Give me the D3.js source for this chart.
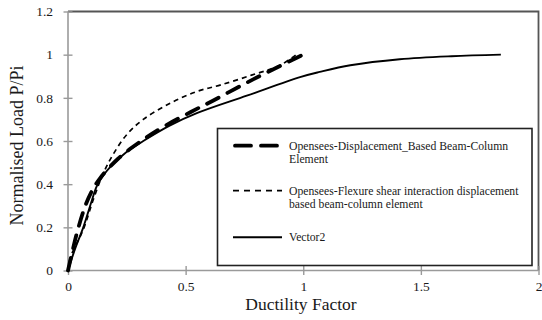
<!DOCTYPE html>
<html>
<head>
<meta charset="utf-8">
<script src="https://cdn.jsdelivr.net/npm/d3@7/dist/d3.min.js"></script>
<style>
  html, body { margin: 0; padding: 0; background: #fff; }
  svg { display: block; }
</style>
</head>
<body>
<svg id="chart" width="542" height="320"></svg>
<script>
// Load–ductility response of the column, three models
const displacementBased = [
  [0, 0], [0.037, 0.17], [0.072, 0.295], [0.10, 0.365], [0.136, 0.427],
  [0.214, 0.519], [0.306, 0.596], [0.406, 0.666], [0.52, 0.733],
  [0.62, 0.789], [0.74, 0.859], [0.85, 0.92], [0.99, 0.995]
];
const flexureShear = [
  [0, 0], [0.01, 0.06], [0.065, 0.19], [0.108, 0.33], [0.15, 0.45],
  [0.193, 0.54], [0.25, 0.63], [0.32, 0.70], [0.434, 0.775],
  [0.55, 0.83], [0.65, 0.86], [0.78, 0.905], [0.90, 0.95], [0.97, 1.0]
];
const vector2 = [
  [0, 0], [0.03, 0.1], [0.065, 0.2], [0.10, 0.32], [0.122, 0.39],
  [0.15, 0.44], [0.18, 0.48], [0.25, 0.55], [0.32, 0.60], [0.43, 0.67],
  [0.55, 0.73], [0.76, 0.81], [0.99, 0.897], [1.07, 0.92], [1.2, 0.951],
  [1.41, 0.979], [1.63, 0.993], [1.84, 1.0]
];
const xTicks = [0, 0.5, 1, 1.5, 2];
const yTicks = [0, 0.2, 0.4, 0.6, 0.8, 1, 1.2];
const seriesNames = [
  ["Opensees-Displacement_Based Beam-Column", "Element"],
  ["Opensees-Flexure shear interaction displacement", "based beam-column element"],
  ["Vector2"]
];

const serif = "'Liberation Serif', 'Times New Roman', Times, serif";
const svg = d3.select("#chart");
const x = d3.scaleLinear().domain([0, 2]).range([68, 538.5]);
const y = d3.scaleLinear().domain([0, 1.2]).range([270.5, 11.5]);

const textColor = "#1a1a1a";

// plot-area frame (top and right)
svg.append("path")
  .attr("d", `M${x(0)},${y(1.2)}H${x(2)}V${y(0)}`)
  .attr("fill", "none").attr("stroke", "#555").attr("stroke-width", 1.8);

// axes
const axisColor = "#9a9a9a";
const xAxis = svg.append("g").attr("transform", `translate(0,${y(0)})`)
  .call(d3.axisBottom(x).tickValues(xTicks).tickFormat(d3.format("")).tickSize(4.5));
const yAxis = svg.append("g").attr("transform", `translate(${x(0)},0)`)
  .call(d3.axisLeft(y).tickValues(yTicks).tickFormat(d3.format("")).tickSize(4.5));

[xAxis, yAxis].forEach(g => {
  g.attr("font-family", serif).attr("font-size", 13.5);
  g.select(".domain").attr("stroke", axisColor).attr("stroke-width", 1.6);
  g.selectAll(".tick line").attr("stroke", axisColor).attr("stroke-width", 1.4);
  g.selectAll(".tick text").attr("fill", textColor);
});
// ticks cross the axis line
xAxis.selectAll(".tick line").attr("y1", -4.5).attr("y2", 4.5);
yAxis.selectAll(".tick line").attr("x1", -4.5).attr("x2", 4.5);
xAxis.selectAll(".tick text").attr("y", 11);
yAxis.selectAll(".tick text").attr("x", -15);
xAxis.select(".domain").attr("d", `M${x(0)},0H${x(2)}`);
yAxis.select(".domain").attr("d", `M0,${y(0)}V${y(1.2)}`);

// axis titles
svg.append("text")
  .attr("x", 301).attr("y", 310)
  .attr("text-anchor", "middle")
  .attr("fill", textColor)
  .attr("font-family", serif)
  .attr("font-size", 17.5)
  .text("Ductility Factor");
svg.append("text")
  .attr("transform", "translate(23,145.5) rotate(-90)")
  .attr("text-anchor", "middle")
  .attr("fill", textColor)
  .attr("font-family", serif)
  .attr("font-size", 18)
  .text("Normalised Load P/Pi");

// series
const line = d3.line().x(d => x(d[0])).y(d => y(d[1])).curve(d3.curveCatmullRom.alpha(0.5));
const styles = [
  { width: 3.8, dash: "13,10", cap: "round" },
  { width: 1.7, dash: "5,4", cap: "butt" },
  { width: 1.9, dash: null, cap: "butt" }
];
const allSeries = [displacementBased, flexureShear, vector2];

allSeries.forEach((data, i) => {
  const p = svg.append("path")
    .datum(data)
    .attr("d", line)
    .attr("fill", "none")
    .attr("stroke", "#000")
    .attr("stroke-width", styles[i].width)
    .attr("stroke-linecap", styles[i].cap);
  if (styles[i].dash) p.attr("stroke-dasharray", styles[i].dash);
});

// legend
const legend = svg.append("g");
legend.append("rect")
  .attr("x", 217.5).attr("y", 128.5).attr("width", 314.5).attr("height", 137)
  .attr("fill", "#fff").attr("stroke", "#222").attr("stroke-width", 1.6);

const legendLineY = [145.7, 190.7, 237.3];
const legendDash = ["16,10", "6,5", null];
seriesNames.forEach((lines, i) => {
  const ly = legendLineY[i];
  const sample = legend.append("line")
    .attr("x1", i === 0 ? 235 : 233).attr("x2", i === 0 ? 280 : 282)
    .attr("y1", ly).attr("y2", ly)
    .attr("stroke", "#000")
    .attr("stroke-width", styles[i].width)
    .attr("stroke-linecap", styles[i].cap);
  if (legendDash[i]) sample.attr("stroke-dasharray", legendDash[i]);
  const t = legend.append("text")
    .attr("x", 289).attr("y", ly + 4)
    .attr("fill", textColor)
    .attr("font-family", serif)
    .attr("font-size", 11.7);
  lines.forEach((s, k) => {
    t.append("tspan").attr("x", 289).attr("dy", k === 0 ? 0 : 13).text(s);
  });
});
</script>
</body>
</html>
